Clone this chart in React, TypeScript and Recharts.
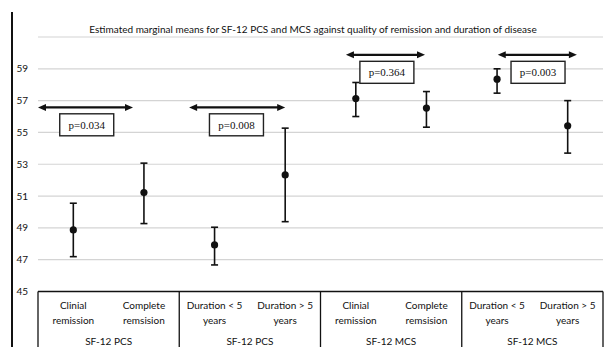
import {
  CartesianGrid,
  ComposedChart,
  ErrorBar,
  ReferenceDot,
  ReferenceLine,
  Scatter,
  XAxis,
  YAxis,
} from "recharts";

// category labels (two lines each) and group labels under them
const categoryLines = [
  ["Clinial", "remission"],
  ["Complete", "remsision"],
  ["Duration < 5", "years"],
  ["Duration > 5", "years"],
  ["Clinial", "remission"],
  ["Complete", "remsision"],
  ["Duration < 5", "years"],
  ["Duration > 5", "years"],
];
const groupLabels = ["SF-12 PCS", "SF-12 PCS", "SF-12 MCS", "SF-12 MCS"];

// estimated marginal means with their interval ends
const means = [48.87, 51.22, 47.93, 52.33, 57.13, 56.53, 58.35, 55.42];
const lower = [47.19, 49.27, 46.67, 49.39, 56.0, 55.33, 57.47, 53.7];
const upper = [50.55, 53.07, 49.04, 55.27, 58.14, 57.57, 59.0, 57.0];

const yTicks = [45, 47, 49, 51, 53, 55, 57, 59];
const xTicks = [1, 2, 3, 4, 5, 6, 7, 8];

// comparison arrows and p-value boxes (in data units)
const pLabels = ["p=0.034", "p=0.008", "p=0.364", "p=0.003"];
const arrowFrom = [0.5, 2.64, 4.86, 7.01];
const arrowTo = [1.845, 4.0, 5.98, 8.13];
const arrowY = [56.57, 56.57, 59.88, 59.88];
const boxX = [1.19, 3.31, 5.44, 7.58];
const boxY = [55.48, 55.48, 58.78, 58.78];

const PLOT_LEFT = 38;
const PLOT_RIGHT = 603;
const BAND = (PLOT_RIGHT - PLOT_LEFT) / categoryLines.length;
const FONT = "Lato, 'Liberation Sans', sans-serif";

const chartData = means.map((m, i) => ({
  x: i + 1,
  mean: m,
  err: [m - lower[i], upper[i] - m],
}));

function CategoryTick(props: any) {
  const { x, y, payload } = props;
  const i = Number(payload.value) - 1;
  const lines = categoryLines[i] ?? [];
  return (
    <g>
      {lines.map((t, k) => (
        <text
          key={k}
          x={x}
          y={y + 17 + k * 15}
          textAnchor="middle"
          fontSize={10}
          fontFamily={FONT}
          fill="#111"
        >
          {t}
        </text>
      ))}
      {i % 2 === 0 && (
        <>
          <line x1={x - BAND / 2} x2={x - BAND / 2} y1={y} y2={347} stroke="#111" strokeWidth={1.3} />
          <text
            x={x + BAND / 2}
            y={y + 53}
            textAnchor="middle"
            fontSize={10}
            fontFamily={FONT}
            fill="#111"
          >
            {groupLabels[i / 2]}
          </text>
        </>
      )}
      {i === categoryLines.length - 1 && (
        <line x1={x + BAND / 2} x2={x + BAND / 2} y1={y} y2={347} stroke="#111" strokeWidth={1.3} />
      )}
    </g>
  );
}

function DoubleArrow(props: any) {
  const { x1, y1, x2 } = props;
  const h = 8;
  const w = 3.5;
  return (
    <g>
      <line x1={x1 + h - 1} x2={x2 - h + 1} y1={y1} y2={y1} stroke="#111" strokeWidth={2.2} />
      <polygon points={`${x1},${y1} ${x1 + h},${y1 - w} ${x1 + h},${y1 + w}`} fill="#111" />
      <polygon points={`${x2},${y1} ${x2 - h},${y1 - w} ${x2 - h},${y1 + w}`} fill="#111" />
    </g>
  );
}

function PBox({ cx, cy, label }: any) {
  return (
    <g>
      <rect x={cx - 27} y={cy - 11} width={54} height={22} fill="#fff" stroke="#222" strokeWidth={1.4} />
      <text
        x={cx}
        y={cy + 4}
        textAnchor="middle"
        fontSize={11}
        fontFamily="'Liberation Serif', serif"
        fill="#111"
      >
        {label}
      </text>
    </g>
  );
}

export default function App() {
  return (
    <div style={{ position: "absolute", left: 0, top: 0, width: 610, height: 347, background: "#fff" }}>
      <div style={{ position: "absolute", left: 11, top: 12, width: 1.5, height: 335, background: "#111" }} />
      <div
        style={{
          position: "absolute",
          left: 0,
          width: 626,
          top: 23,
          textAlign: "center",
          fontFamily: FONT,
          fontSize: 10,
          color: "#111",
          whiteSpace: "nowrap",
        }}
      >
        Estimated marginal means for SF-12 PCS and MCS against quality of remission and duration of disease
      </div>
      <ComposedChart
        width={610}
        height={347}
        data={chartData}
        margin={{ top: 37, right: 7, bottom: 0, left: 10 }}
        style={{ position: "absolute", left: 0, top: 0 }}
      >
        <CartesianGrid horizontal vertical={false} stroke="#d4d4d4" strokeWidth={1.2} />
        <XAxis
          dataKey="x"
          type="number"
          domain={[0.5, 8.5]}
          ticks={xTicks}
          height={55.5}
          axisLine={{ stroke: "#111", strokeWidth: 1.3 }}
          tickLine={false}
          tickSize={0}
          tickMargin={0}
          interval={0}
          tick={<CategoryTick />}
        />
        <YAxis
          type="number"
          domain={[45, 61]}
          ticks={yTicks}
          width={28}
          axisLine={false}
          tickLine={false}
          tickSize={0}
          tickMargin={10}
          tick={{ fill: "#111", fontSize: 10, fontFamily: FONT }}
        />
        {pLabels.map((_, i) => (
          <ReferenceLine
            key={`a${i}`}
            segment={[
              { x: arrowFrom[i], y: arrowY[i] },
              { x: arrowTo[i], y: arrowY[i] },
            ]}
            ifOverflow="visible"
            shape={(p: any) => <DoubleArrow {...p} />}
          />
        ))}
        {pLabels.map((label, i) => (
          <ReferenceDot
            key={`b${i}`}
            x={boxX[i]}
            y={boxY[i]}
            ifOverflow="visible"
            shape={(p: any) => <PBox {...p} label={label} />}
          />
        ))}
        <Scatter
          dataKey="mean"
          isAnimationActive={false}
          shape={(p: any) => <circle cx={p.cx} cy={p.cy} r={3.6} fill="#111" />}
        >
          <ErrorBar dataKey="err" direction="y" width={3.5} stroke="#111" strokeWidth={1.6} />
        </Scatter>
      </ComposedChart>
    </div>
  );
}
